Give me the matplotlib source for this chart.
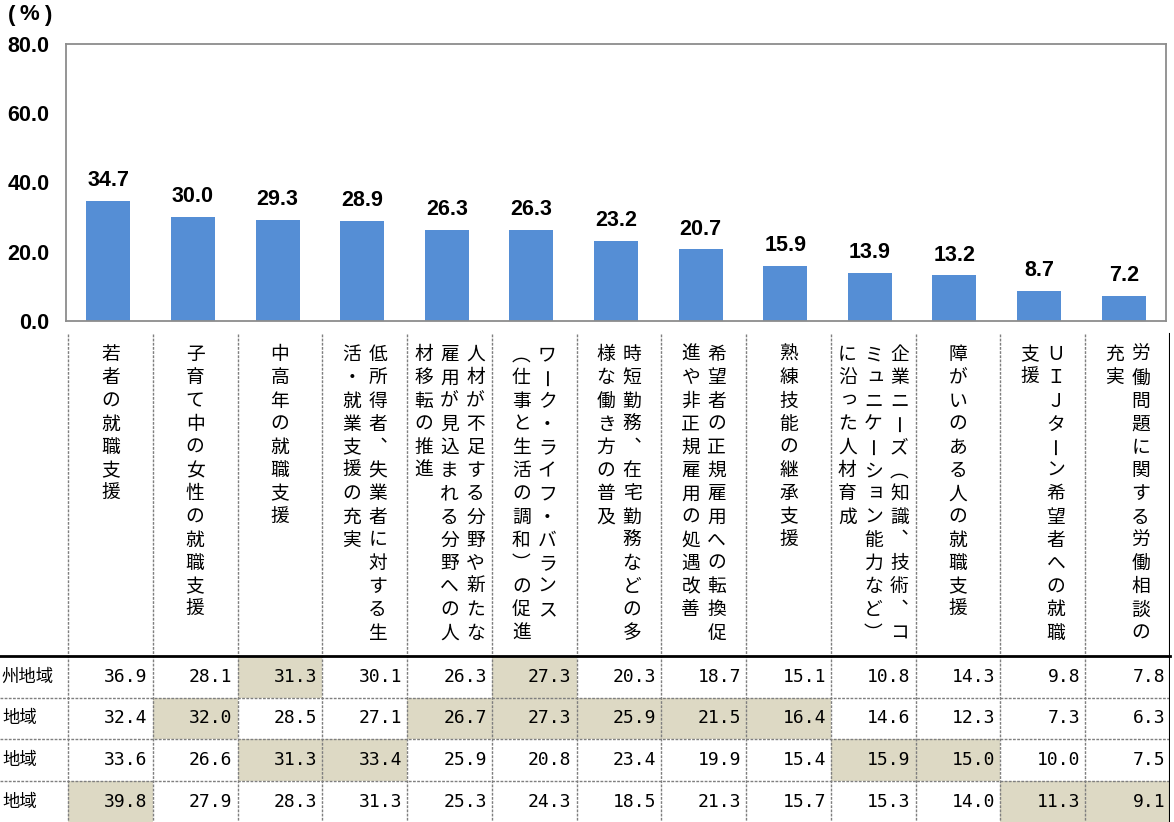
import matplotlib
matplotlib.use('Agg')
import matplotlib.pyplot as plt
from matplotlib.patches import Rectangle

plt.rcParams['font.family'] = ['Noto Sans CJK JP', 'DejaVu Sans']

# category labels, already split into vertical columns (first column is drawn on the right)
categories = [
    ['若者の就職支援'],
    ['子育て中の女性の就職支援'],
    ['中高年の就職支援'],
    ['低所得者、失業者に対する生', '活・就業支援の充実'],
    ['人材が不足する分野や新たな', '雇用が見込まれる分野への人', '材移転の推進'],
    ['ワーク・ライフ・バランス', '（仕事と生活の調和）の促進'],
    ['時短勤務、在宅勤務などの多', '様な働き方の普及'],
    ['希望者の正規雇用への転換促', '進や非正規雇用の処遇改善'],
    ['熟練技能の継承支援'],
    ['企業ニーズ（知識、技術、コ', 'ミュニケーション能力など）', 'に沿った人材育成'],
    ['障がいのある人の就職支援'],
    ['ＵＩＪターン希望者への就職', '支援'],
    ['労働問題に関する労働相談の', '充実'],
]
totals = [34.7, 30.0, 29.3, 28.9, 26.3, 26.3, 23.2, 20.7, 15.9, 13.9, 13.2, 8.7, 7.2]

row_labels = ['州地域', '地域', '地域', '地域']
region_1 = [36.9, 28.1, 31.3, 30.1, 26.3, 27.3, 20.3, 18.7, 15.1, 10.8, 14.3, 9.8, 7.8]
region_2 = [32.4, 32.0, 28.5, 27.1, 26.7, 27.3, 25.9, 21.5, 16.4, 14.6, 12.3, 7.3, 6.3]
region_3 = [33.6, 26.6, 31.3, 33.4, 25.9, 20.8, 23.4, 19.9, 15.4, 15.9, 15.0, 10.0, 7.5]
region_4 = [39.8, 27.9, 28.3, 31.3, 25.3, 24.3, 18.5, 21.3, 15.7, 15.3, 14.0, 11.3, 9.1]
region_rows = [region_1, region_2, region_3, region_4]

yticks = [0, 20, 40, 60, 80]

W, H = 1174, 822
bar_color = '#558ED5'
shade = '#DDD9C4'
n = len(totals)

fig = plt.figure(figsize=(W / 100, H / 100), dpi=100)

# bar chart
ax = fig.add_axes([66 / W, 1 - 321 / H, 1100 / W, 277 / H])
x = list(range(n))
bars = ax.bar(x, totals, width=0.52, color=bar_color)
ax.bar_label(bars, fmt='%.1f', padding=7, fontsize=15.5, fontweight='bold',
             family='Liberation Sans')
ax.set_xlim(-0.5, n - 0.5)
ax.set_ylim(0, 80)
ax.set_yticks(yticks)
ax.set_yticklabels([f'{v:.1f}' for v in yticks], fontsize=15.5, fontweight='bold',
                   family='Liberation Sans')
ax.set_xticks([])
ax.tick_params(axis='y', length=0, pad=12)
for s in ax.spines.values():
    s.set_color('#8C8C8C')
    s.set_linewidth(1.3)

# unit label "(%)", spread out like the original
unit_font = dict(fontsize=16, fontweight='bold', family='Liberation Sans',
                 va='center', ha='left')
fig.text(8 / W, 1 - 15 / H, '(', **unit_font)
fig.text(19 / W, 1 - 15 / H, '%', **unit_font)
fig.text(44 / W, 1 - 15 / H, ')', **unit_font)

# table below the chart, x in column units, y in pixels
col_left, col_w = 68, (1170 - 68) / n
tx = fig.add_axes([col_left / W, 0, (1170 - col_left) / W, 1])
tx.set_xlim(-0.5, n - 0.5)
tx.set_ylim(H, 0)
tx.axis('off')


def px2u(px):
    return (px - col_left) / col_w - 0.5


x0 = px2u(0)
head_top, head_bot = 334, 656
row_h = 41.6
dash = dict(color='#7F7F7F', lw=1.0, linestyle=(0, (2, 1)), clip_on=False)

# shaded cells (highest region per column)
for c in range(n):
    col_vals = [r[c] for r in region_rows]
    for r, row in enumerate(region_rows):
        if row[c] == max(col_vals):
            tx.add_patch(Rectangle((c - 0.5, head_bot + r * row_h), 1, row_h,
                                   facecolor=shade, edgecolor='none', zorder=1))

for c in range(n):
    tx.plot([c - 0.5, c - 0.5], [head_top, H], zorder=2, **dash)
for r in range(1, len(region_rows)):
    y = head_bot + r * row_h
    tx.plot([x0, n - 0.5], [y, y], zorder=2, **dash)
tx.plot([x0, n - 0.5], [head_bot, head_bot], color='black', lw=2, zorder=3, clip_on=False)
tx.plot([n - 0.5, n - 0.5], [head_top, H], color='black', lw=1.5, zorder=3)

# vertical header text
fs = 13.5
em = fs * 100 / 72
small_kana = set('ュョッっャゃ')
rep = {'、': '︑', '（': '︵', '）': '︶'}
col_gap = 26 / col_w
for c, cols in enumerate(categories):
    k = len(cols)
    for j, line in enumerate(cols):
        cx = c + (k - 1) / 2 * col_gap - j * col_gap
        for i, ch in enumerate(line):
            cy = 353 + 23.2 * i
            if ch == 'ー':
                tx.text(cx, cy, ch, fontsize=fs, ha='center', va='center',
                        rotation=90, rotation_mode='anchor')
                continue
            dx, dy = 0, 0
            if ch in small_kana:
                dx, dy = 2.5 / col_w, -2.5
            tx.text(cx + dx, cy + dy + 0.38 * em, rep.get(ch, ch), fontsize=fs,
                    ha='center', va='baseline')

# table values
for r, row in enumerate(region_rows):
    cy = head_bot + r * row_h + row_h / 2
    for c, v in enumerate(row):
        tx.text(c + 0.5 - 5 / col_w, cy, f'{v:.1f}', fontsize=13,
                family='DejaVu Sans Mono', ha='right', va='center', zorder=4)
    if r == 0:
        tx.text(px2u(1), cy, row_labels[r], fontsize=12.5, ha='left', va='center',
                clip_on=False)
    else:
        tx.text(px2u(37), cy, row_labels[r], fontsize=12.5, ha='right',
                va='center', clip_on=False)

fig.savefig('out.png', dpi=100)
